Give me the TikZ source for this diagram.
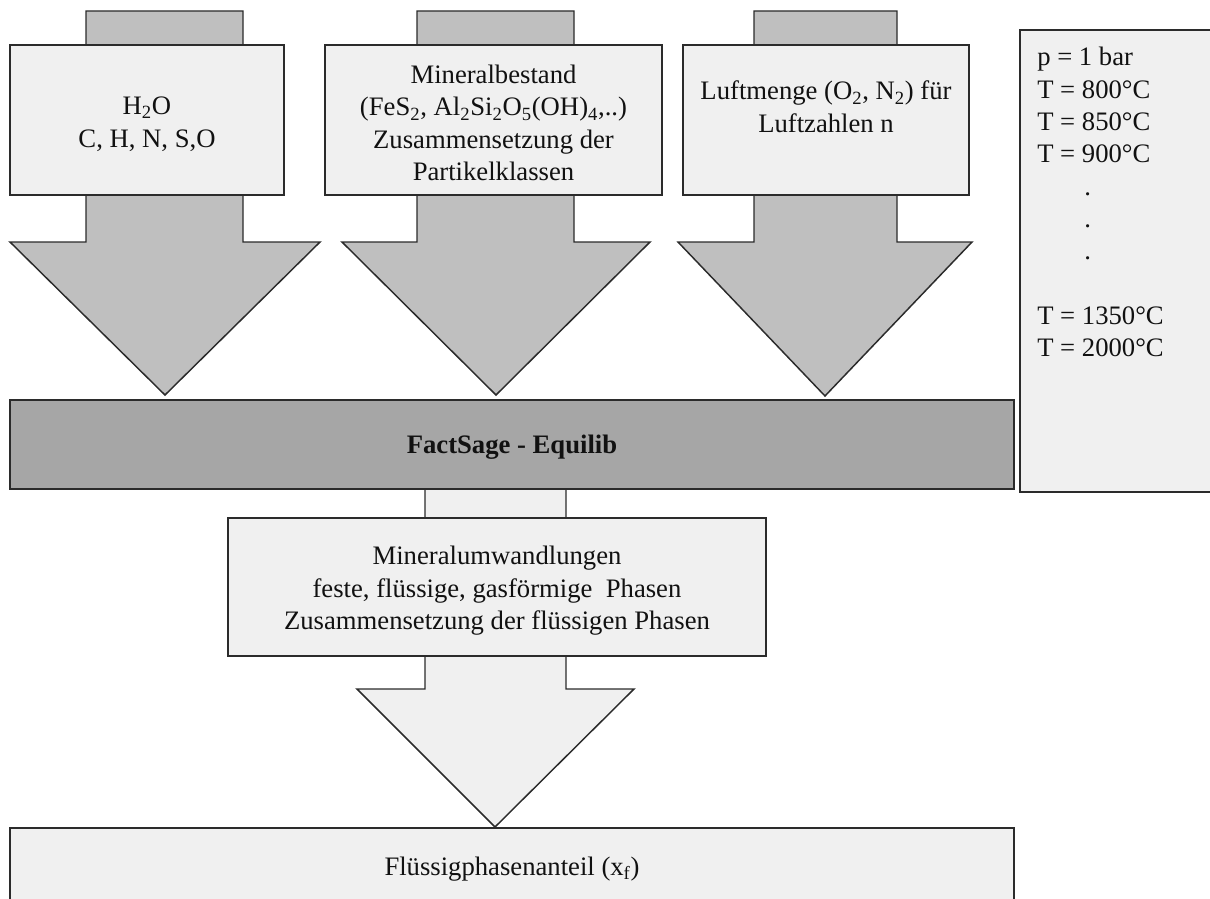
\documentclass[tikz,border=0pt]{standalone}
\usepackage{fontspec}
\setmainfont{Liberation Serif}
\definecolor{edgecol}{HTML}{2B2B2B}
\definecolor{arrowgray}{HTML}{BFBFBF}
\definecolor{boxgray}{HTML}{F0F0F0}
\definecolor{darkbox}{HTML}{A6A6A6}
\definecolor{txt}{HTML}{111111}
\begin{document}
\begin{tikzpicture}[x=0.75pt,y=-0.75pt,
  blockarrow/.style={draw=edgecol, line width=1.1pt, fill=arrowgray, line join=miter},
  lightarrow/.style={blockarrow, fill=boxgray},
  inbox/.style={draw=edgecol, line width=1.1pt, fill=boxgray, rectangle, inner sep=0pt},
  plaintext/.style={inner sep=0pt, align=center, text=txt, font=\fontsize{20}{24.4}\selectfont},
  listtext/.style={inner sep=0pt, anchor=base west, text=txt, font=\fontsize{20}{24.4}\selectfont}]
\useasboundingbox (0,0) rectangle (1210,899);
\clip (0,0) rectangle (1210,899);

% big input arrows (drawn first, boxes lie on top)
\draw[blockarrow] (86,11) -- (243,11) -- (243,242) -- (320,242) -- (165,395) -- (10,242) -- (86,242) -- cycle;
\draw[blockarrow] (417,11) -- (574,11) -- (574,242) -- (650,242) -- (496,395) -- (342,242) -- (417,242) -- cycle;
\draw[blockarrow] (754,11) -- (897,11) -- (897,242) -- (972,242) -- (825,396) -- (678,242) -- (754,242) -- cycle;

% input boxes
\node[inbox, minimum width=205.5pt, minimum height=112.5pt] (in1) at (147,120) {};
\node[plaintext] (in1text) at (147,124) {H\textsubscript{2}O\\C, H, N, S,O};
\node[inbox, minimum width=252.75pt, minimum height=112.5pt] (in2) at (493.5,120) {};
\node[plaintext] (in2text) at (493.5,123)
  {Mineralbestand\\(FeS\textsubscript{2}, Al\textsubscript{2}Si\textsubscript{2}O\textsubscript{5}(OH)\textsubscript{4},..)\\Zusammensetzung der\\Partikelklassen};
\node[inbox, minimum width=214.5pt, minimum height=112.5pt] (in3) at (826,120) {};
\node[plaintext] (in3text) at (826,107)
  {Luftmenge (O\textsubscript{2}, N\textsubscript{2}) für\\Luftzahlen n};

% parameter box on the right
\node[inbox, minimum width=157.5pt, minimum height=346.5pt] (params) at (1125,261) {};
\foreach \t [count=\i from 0] in {p = 1 bar, T = 800°C, T = 850°C, T = 900°C} {
  \node[listtext] (p\i) at (1037,{66+32.3*\i}) {\t};
}
\foreach \i in {4,5,6} {
  \node[listtext] (p\i) at (1084,{66+32.3*\i}) {.};
}
\node[listtext] (p8) at (1037,{66+32.3*8}) {T = 1350°C};
\node[listtext] (p9) at (1037,{66+32.3*9}) {T = 2000°C};

% lower arrow (light), drawn before the boxes
\draw[lightarrow] (425,489) -- (566,489) -- (566,689) -- (634,689) -- (495,827) -- (357,689) -- (425,689) -- cycle;

% FactSage box
\node[inbox, fill=darkbox, minimum width=753pt, minimum height=66.75pt] (fs) at (512,444.5) {};
\node[plaintext, font=\fontsize{20}{24.4}\selectfont\bfseries] (fstext) at (512,447) {FactSage - Equilib};

% result boxes
\node[inbox, minimum width=403.5pt, minimum height=103.5pt] (mu) at (497,587) {};
\node[plaintext] (mutext) at (497,591)
  {Mineralumwandlungen\\feste, flüssige, gasförmige\ \ Phasen\\Zusammensetzung der flüssigen Phasen};
\node[inbox, minimum width=753pt, minimum height=60pt] (xf) at (512,868) {};
\node[plaintext] (xftext) at (512,869) {Flüssigphasenanteil (x\textsubscript{f})};
\end{tikzpicture}
\end{document}
